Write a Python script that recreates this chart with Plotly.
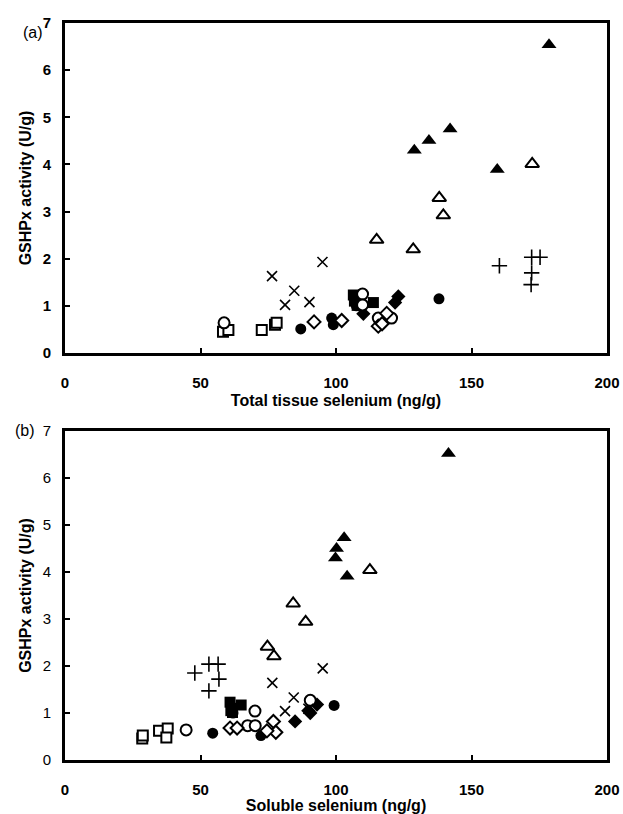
import plotly.graph_objects as go

# ---------------- Panel (a): Total tissue selenium ----------------
A_TRI_FILL_X = [178.6, 142.1, 134.3, 128.9, 159.5]
A_TRI_FILL_Y = [6.54, 4.75, 4.51, 4.30, 3.89]
A_TRI_OPEN_X = [172.4, 138.1, 139.6, 128.5, 115.0]
A_TRI_OPEN_Y = [4.01, 3.29, 2.92, 2.20, 2.40]
A_PLUS_X = [172.2, 175.3, 160.3, 172.2, 172.0]
A_PLUS_Y = [2.03, 2.03, 1.85, 1.70, 1.45]
A_CROSS_X = [76.4, 95.0, 84.6, 81.2, 90.2]
A_CROSS_Y = [1.63, 1.93, 1.32, 1.02, 1.08]
A_SQ_FILL_X = [106.4, 107.5, 106.8, 107.8, 113.8]
A_SQ_FILL_Y = [1.23, 1.17, 1.10, 1.01, 1.07]
A_SQ_OPEN_X = [58.3, 60.3, 72.6, 77.5, 78.1]
A_SQ_OPEN_Y = [0.45, 0.49, 0.49, 0.60, 0.64]
A_CIR_FILL_X = [87.0, 98.4, 99.0, 107.5, 138.0]
A_CIR_FILL_Y = [0.51, 0.74, 0.60, 1.00, 1.15]
A_CIR_OPEN_X = [58.7, 109.8, 109.8, 115.6, 120.5]
A_CIR_OPEN_Y = [0.64, 1.25, 1.02, 0.74, 0.74]
A_DIA_FILL_X = [110.1, 121.8, 123.0]
A_DIA_FILL_Y = [0.83, 1.07, 1.20]
A_DIA_OPEN_X = [91.9, 102.1, 115.6, 118.7, 117.0]
A_DIA_OPEN_Y = [0.66, 0.69, 0.57, 0.84, 0.62]

# ---------------- Panel (b): Soluble selenium ----------------
B_TRI_FILL_X = [141.5, 100.2, 99.8, 103.0, 104.1]
B_TRI_FILL_Y = [6.52, 4.50, 4.30, 4.73, 3.91]
B_TRI_OPEN_X = [112.5, 84.2, 88.8, 74.7, 77.1]
B_TRI_OPEN_Y = [4.04, 3.33, 2.94, 2.41, 2.21]
B_PLUS_X = [47.9, 53.1, 56.5, 56.8, 53.1]
B_PLUS_Y = [1.85, 2.04, 2.04, 1.72, 1.47]
B_CROSS_X = [76.5, 95.1, 84.4, 81.2, 89.8]
B_CROSS_Y = [1.64, 1.95, 1.33, 1.04, 1.09]
B_SQ_FILL_X = [60.9, 65.0, 61.5, 61.8, 61.2]
B_SQ_FILL_Y = [1.23, 1.17, 1.10, 1.01, 1.05]
B_SQ_OPEN_X = [28.5, 28.7, 34.7, 37.9, 37.4]
B_SQ_OPEN_Y = [0.46, 0.52, 0.62, 0.67, 0.48]
B_CIR_FILL_X = [54.5, 72.3, 99.3, 62.0, 70.0]
B_CIR_FILL_Y = [0.57, 0.52, 1.16, 1.00, 0.74]
B_CIR_OPEN_X = [44.7, 70.1, 67.4, 70.2, 90.5]
B_CIR_OPEN_Y = [0.64, 1.04, 0.73, 0.73, 1.27]
B_DIA_FILL_X = [84.9, 89.8, 93.0, 90.5]
B_DIA_FILL_Y = [0.82, 1.05, 1.18, 1.00]
B_DIA_OPEN_X = [60.9, 63.5, 76.9, 77.8, 74.5]
B_DIA_OPEN_Y = [0.68, 0.68, 0.82, 0.59, 0.62]

X_TICKS = [0, 50, 100, 150, 200]
Y_TICKS = [0, 1, 2, 3, 4, 5, 6, 7]

# style table: (symbol, fill, size, line width)
STYLES = {
    "sq_fill": ("square", "black", 11, 0),
    "cir_fill": ("circle", "black", 11, 0),
    "dia_fill": ("diamond", "black", 11, 0),
    "sq_open": ("square", "white", 10, 2),
    "cir_open": ("circle", "white", 11, 2),
    "dia_open": ("diamond", "white", 10, 2),
    "tri_open": ("triangle-up", "white", 12, 2),
    "tri_fill": ("triangle-up", "black", 13, 0),
    "cross": ("x-thin", "black", 10, 1.6),
    "plus": ("cross-thin", "black", 11, 1.6),
}

PANEL_A = [
    ("sq_fill", A_SQ_FILL_X, A_SQ_FILL_Y),
    ("cir_fill", A_CIR_FILL_X, A_CIR_FILL_Y),
    ("dia_fill", A_DIA_FILL_X, A_DIA_FILL_Y),
    ("sq_open", A_SQ_OPEN_X, A_SQ_OPEN_Y),
    ("cir_open", A_CIR_OPEN_X, A_CIR_OPEN_Y),
    ("dia_open", A_DIA_OPEN_X, A_DIA_OPEN_Y),
    ("tri_open", A_TRI_OPEN_X, A_TRI_OPEN_Y),
    ("tri_fill", A_TRI_FILL_X, A_TRI_FILL_Y),
    ("cross", A_CROSS_X, A_CROSS_Y),
    ("plus", A_PLUS_X, A_PLUS_Y),
]
PANEL_B = [
    ("sq_fill", B_SQ_FILL_X, B_SQ_FILL_Y),
    ("cir_fill", B_CIR_FILL_X, B_CIR_FILL_Y),
    ("dia_fill", B_DIA_FILL_X, B_DIA_FILL_Y),
    ("sq_open", B_SQ_OPEN_X, B_SQ_OPEN_Y),
    ("cir_open", B_CIR_OPEN_X, B_CIR_OPEN_Y),
    ("dia_open", B_DIA_OPEN_X, B_DIA_OPEN_Y),
    ("tri_open", B_TRI_OPEN_X, B_TRI_OPEN_Y),
    ("tri_fill", B_TRI_FILL_X, B_TRI_FILL_Y),
    ("cross", B_CROSS_X, B_CROSS_Y),
    ("plus", B_PLUS_X, B_PLUS_Y),
]

fig = go.Figure()


def add_panel(series, xa, ya):
    for key, xs, ys in series:
        sym, fill, size, lw = STYLES[key]
        marker = dict(symbol=sym, size=size, color=fill,
                      line=dict(color="black", width=lw))
        fig.add_trace(go.Scatter(x=xs, y=ys, mode="markers", marker=marker,
                                 xaxis=xa, yaxis=ya, showlegend=False,
                                 cliponaxis=False, hoverinfo="skip"))


add_panel(PANEL_A, "x", "y")
add_panel(PANEL_B, "x2", "y2")

W, H = 623, 814
L, R = 65, 607
A_TOP, A_BOT = 23, 353
B_TOP, B_BOT = 431, 760

FONT = "Liberation Sans, Arial, Helvetica, sans-serif"
BOLD = dict(family=FONT, size=15, color="black", weight="bold")
NORMAL = dict(family=FONT, size=15, color="black")
TITLE = dict(family=FONT, size=16, color="black", weight="bold")


def xaxis_cfg(title, anchor):
    return dict(domain=[L / W, R / W], range=[0, 200], tickvals=X_TICKS,
                ticks="inside", ticklen=5, tickwidth=2, tickcolor="black",
                showline=True, linewidth=3, linecolor="black", mirror=True,
                showgrid=False, zeroline=False, tickfont=BOLD,
                ticklabelstandoff=14, ticklabeloverflow="allow",
                anchor=anchor, automargin=False,
                title=dict(text=title, font=TITLE, standoff=5))


def yaxis_cfg(top, bot, anchor, tickfont):
    return dict(domain=[1 - bot / H, 1 - top / H], range=[0, 7], tickvals=Y_TICKS,
                ticks="inside", ticklen=5, tickwidth=2, tickcolor="black",
                showline=True, linewidth=3, linecolor="black", mirror=True,
                showgrid=False, zeroline=False, tickfont=tickfont,
                ticklabelstandoff=8, anchor=anchor, automargin=False,
                title=dict(text="GSHPx activity (U/g)", font=TITLE, standoff=8))


fig.update_layout(
    width=W, height=H,
    margin=dict(l=0, r=0, t=0, b=0),
    paper_bgcolor="white", plot_bgcolor="white",
    hovermode=False,
    xaxis=xaxis_cfg("Total tissue selenium (ng/g)", "y"),
    yaxis=yaxis_cfg(A_TOP, A_BOT, "x", BOLD),
    xaxis2=xaxis_cfg("Soluble selenium (ng/g)", "y2"),
    yaxis2=yaxis_cfg(B_TOP, B_BOT, "x2", NORMAL),
    annotations=[
        dict(text="(a)", x=21 / W, y=1 - 22 / H, xref="paper", yref="paper",
             showarrow=False, font=dict(family=FONT, size=16, color="black")),
        dict(text="(b)", x=13 / W, y=1 - 430 / H, xref="paper", yref="paper",
             showarrow=False, font=dict(family=FONT, size=16, color="black")),
    ],
)

# remove the page's default body margin so the 623x814 figure fills the window
fig.write_html("out.html",
               config={"displayModeBar": False, "staticPlot": True},
               post_script="document.body.style.margin='0px';"
                           "document.body.style.overflow='hidden';")
